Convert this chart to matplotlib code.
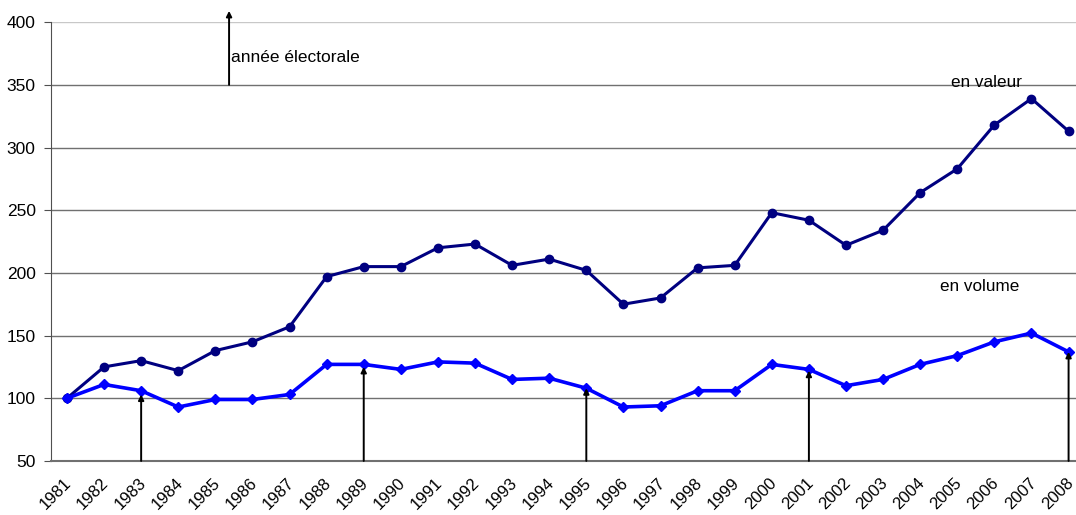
import numpy as np
import matplotlib.pyplot as plt
import matplotlib.transforms as mtransforms

plt.rcParams['font.family'] = ['Liberation Sans', 'DejaVu Sans']

years = [str(y) for y in range(1981, 2009)]
valeur = [100, 125, 130, 122, 138, 145, 157, 197, 205, 205, 220, 223, 206, 211,
          202, 175, 180, 204, 206, 248, 242, 222, 234, 264, 283, 318, 339, 313]
volume = [100, 111, 106, 93, 99, 99, 103, 127, 127, 123, 129, 128, 115, 116,
          108, 93, 94, 106, 106, 127, 123, 110, 115, 127, 134, 145, 152, 137]
election_years = ['1983', '1989', '1995', '2001', '2008']
arrow_tops = [103, 125, 108, 122, 137]

x = np.arange(len(years))

fig = plt.figure(figsize=(10.76, 5.15), dpi=100)
ax = fig.add_axes([0.0474, 0.105, 0.9526, 0.852])

for v in range(100, 400, 50):
    ax.axhline(v, color='#707070', lw=1.0, zorder=1)
ax.axhline(400, color='#c8c8c8', lw=1.0, zorder=1)

ax.plot(x, valeur, color='#000080', lw=2.2, marker='o', ms=6, zorder=3)
ax.plot(x, volume, color='#0000ff', lw=2.6, marker='D', ms=5.5, zorder=3)

for yr, top in zip(election_years, arrow_tops):
    i = years.index(yr)
    ax.annotate('', xy=(i, top), xytext=(i, 50),
                arrowprops=dict(arrowstyle='-|>', color='black', lw=1.4,
                                mutation_scale=8, shrinkA=0, shrinkB=0),
                zorder=4)

# legend arrow
ax.annotate('', xy=(4.37, 409), xytext=(4.37, 350), annotation_clip=False,
            arrowprops=dict(arrowstyle='-|>', color='black', lw=1.4,
                            mutation_scale=8, shrinkA=0, shrinkB=0))
ax.text(4.43, 372, 'année électorale', fontsize=12.5, va='center', ha='left')
ax.text(24.8, 352, 'en valeur', fontsize=12.3, va='center', ha='center')
ax.text(24.6, 189, 'en volume', fontsize=12.3, va='center', ha='center')

ax.set_xlim(-0.43, 27.2)
ax.set_ylim(50, 400)
ax.set_yticks(range(50, 401, 50))
ax.set_xticks(x)
ax.set_xticklabels(years, rotation=45, ha='right', rotation_mode='anchor')
ax.tick_params(axis='x', length=0, labelsize=12, pad=10)
ax.tick_params(axis='y', length=5, labelsize=12.5, color='#505050', pad=6)

shift = mtransforms.ScaledTranslation(-3 / 100, 0, fig.dpi_scale_trans)
for lab in ax.get_xticklabels():
    lab.set_transform(lab.get_transform() + shift)

for s in ['top', 'right']:
    ax.spines[s].set_visible(False)
ax.spines['left'].set_color('#505050')
ax.spines['bottom'].set_color('#707070')
ax.spines['bottom'].set_linewidth(1.5)

fig.savefig('out.png', dpi=100)
